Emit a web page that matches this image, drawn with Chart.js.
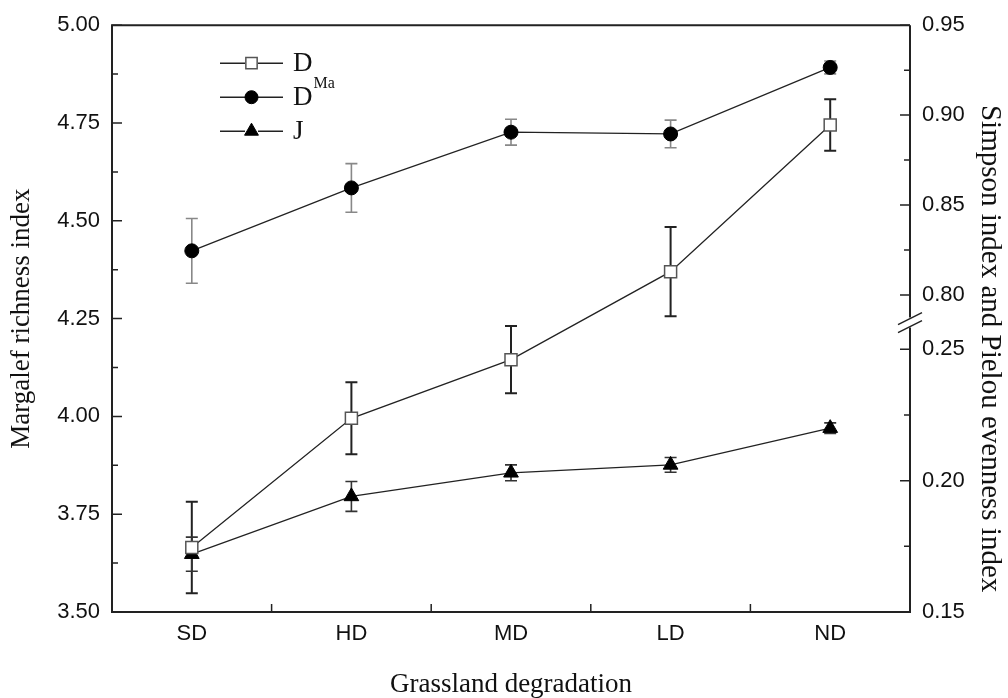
<!DOCTYPE html>
<html>
<head>
<meta charset="utf-8">
<script src="https://cdn.jsdelivr.net/npm/chart.js@4.4.0/dist/chart.umd.min.js"></script>
<style>
  html, body { margin: 0; padding: 0; background: #fff; }
  #wrap { width: 1008px; height: 698px; }
</style>
</head>
<body>
<div id="wrap"><canvas id="chart" width="1008" height="698"></canvas></div>
<script>
const categories = ['SD', 'HD', 'MD', 'LD', 'ND'];

// Margalef richness index (left axis)
const margalef = [3.665, 3.995, 4.145, 4.37, 4.745];
const margalefErr = [0.117, 0.092, 0.086, 0.114, 0.066];
// Simpson index (right axis, upper part)
const simpson = [0.8245, 0.8595, 0.8905, 0.8895, 0.9265];
const simpsonErr = [0.018, 0.0135, 0.0072, 0.0077, 0.0036];
// Pielou evenness index (right axis, lower part)
const pielou = [0.172, 0.194, 0.203, 0.206, 0.220];
const pielouErr = [0.0065, 0.0057, 0.003, 0.0028, 0.002];

const leftTicks = [3.50, 3.75, 4.00, 4.25, 4.50, 4.75, 5.00];
const leftMinor = [3.625, 3.875, 4.125, 4.375, 4.625, 4.875];
const simpsonTicks = [0.80, 0.85, 0.90, 0.95];
const simpsonMinor = [0.825, 0.875, 0.925];
const pielouTicks = [0.15, 0.20, 0.25];
const pielouMinor = [0.175, 0.225];

const legendLabels = [['D', 'Ma'], ['D', ''], ['J', '']];

const tickFont = { family: 'Liberation Sans, Arial, sans-serif', size: 22 };
const titleFont = { family: 'Liberation Serif, Times New Roman, serif', size: 27 };
const ink = '#111';
const frameColor = '#222';

const errorBars = {
    DMa: { values: margalefErr, color: '#222', width: 2 },
    D: { values: simpsonErr, color: '#888', width: 1.6 },
    J: { values: pielouErr, color: '#333', width: 1.6 }
};

const decor = {
    id: 'decor',
    beforeDatasetsDraw(chart) {
        const ctx = chart.ctx;
        chart.data.datasets.forEach((ds, i) => {
            const yScale = chart.scales[ds.yAxisID];
            const xScale = chart.scales.x;
            const eb = errorBars[ds.key];
            ctx.save();
            ctx.strokeStyle = eb.color;
            ctx.lineWidth = eb.width;
            ds.data.forEach((v, j) => {
                const x = xScale.getPixelForValue(j);
                const y1 = yScale.getPixelForValue(v + eb.values[j]);
                const y2 = yScale.getPixelForValue(v - eb.values[j]);
                ctx.beginPath();
                ctx.moveTo(x, y1); ctx.lineTo(x, y2);
                ctx.moveTo(x - 6, y1); ctx.lineTo(x + 6, y1);
                ctx.moveTo(x - 6, y2); ctx.lineTo(x + 6, y2);
                ctx.stroke();
            });
            ctx.restore();
        });
    },
    afterDraw(chart) {
        const ctx = chart.ctx;
        const { left, right, top, bottom } = chart.chartArea;
        const brk = chart.scales.yD.bottom;

        ctx.save();
        ctx.strokeStyle = frameColor;
        ctx.lineWidth = 2;
        ctx.beginPath();
        ctx.moveTo(right, top); ctx.lineTo(left, top);
        ctx.lineTo(left, bottom); ctx.lineTo(right, bottom);
        ctx.lineTo(right, brk + 5);
        ctx.moveTo(right, top); ctx.lineTo(right, brk - 5);
        ctx.stroke();

        // axis break marks
        ctx.lineWidth = 1.5;
        ctx.beginPath();
        [-4, 4].forEach(d => {
            ctx.moveTo(right - 12, brk + d + 6);
            ctx.lineTo(right + 12, brk + d - 6);
        });
        ctx.stroke();

        // inward tick marks
        ctx.lineWidth = 1.5;
        ctx.beginPath();
        const yl = chart.scales.y;
        leftTicks.forEach(v => { const p = yl.getPixelForValue(v); ctx.moveTo(left, p); ctx.lineTo(left + 10, p); });
        leftMinor.forEach(v => { const p = yl.getPixelForValue(v); ctx.moveTo(left, p); ctx.lineTo(left + 6, p); });
        const yd = chart.scales.yD, yj = chart.scales.yJ;
        simpsonTicks.forEach(v => { const p = yd.getPixelForValue(v); ctx.moveTo(right, p); ctx.lineTo(right - 10, p); });
        simpsonMinor.forEach(v => { const p = yd.getPixelForValue(v); ctx.moveTo(right, p); ctx.lineTo(right - 6, p); });
        pielouTicks.forEach(v => { const p = yj.getPixelForValue(v); ctx.moveTo(right, p); ctx.lineTo(right - 10, p); });
        pielouMinor.forEach(v => { const p = yj.getPixelForValue(v); ctx.moveTo(right, p); ctx.lineTo(right - 6, p); });
        const xs = chart.scales.x;
        for (let i = 0; i < categories.length - 1; i++) {
            const p = (xs.getPixelForValue(i) + xs.getPixelForValue(i + 1)) / 2;
            ctx.moveTo(p, bottom); ctx.lineTo(p, bottom - 8);
        }
        ctx.stroke();

        // right axis title
        ctx.fillStyle = ink;
        ctx.font = `29px ${titleFont.family}`;
        ctx.textAlign = 'center';
        ctx.textBaseline = 'middle';
        ctx.translate(chart.width - 18, (top + bottom) / 2 + 30);
        ctx.rotate(Math.PI / 2);
        ctx.fillText('Simpson index and Pielou evenness index', 0, 0);
        ctx.restore();

        // legend
        ctx.save();
        chart.data.datasets.forEach((ds, i) => {
            const y = top + 38 + i * 34;
            const x0 = left + 108;
            ctx.strokeStyle = ds.borderColor;
            ctx.lineWidth = 1.5;
            ctx.beginPath();
            ctx.moveTo(x0, y); ctx.lineTo(x0 + 25, y);
            ctx.moveTo(x0 + 38, y); ctx.lineTo(x0 + 63, y);
            ctx.stroke();
            ctx.fillStyle = ds.pointBackgroundColor;
            ctx.strokeStyle = ds.pointBorderColor;
            ctx.lineWidth = ds.pointBorderWidth;
            Chart.helpers.drawPoint(ctx, { pointStyle: ds.pointStyle, radius: ds.pointRadius - 0.5, rotation: 0, borderWidth: ds.pointBorderWidth }, x0 + 31.5, y);
            ctx.fillStyle = ink;
            ctx.textAlign = 'left';
            ctx.textBaseline = 'middle';
            ctx.font = `${titleFont.size}px ${titleFont.family}`;
            ctx.fillText(legendLabels[i][0], x0 + 73, y + 1);
            if (legendLabels[i][1]) {
                const w = ctx.measureText(legendLabels[i][0]).width;
                ctx.font = `16px ${titleFont.family}`;
                ctx.fillText(legendLabels[i][1], x0 + 74 + w, y + 21);
            }
        });
        ctx.restore();
    }
};

const ctx = document.getElementById('chart').getContext('2d');

new Chart(ctx, {
    type: 'line',
    data: {
        labels: categories,
        datasets: [
            {
                key: 'DMa', label: 'DMa', data: margalef, yAxisID: 'y',
                borderColor: '#222', borderWidth: 1.3, tension: 0,
                pointStyle: 'rect', pointRadius: 8.5, pointBackgroundColor: '#fff',
                pointBorderColor: '#555', pointBorderWidth: 1.5, clip: false
            },
            {
                key: 'D', label: 'D', data: simpson, yAxisID: 'yD',
                borderColor: '#222', borderWidth: 1.3, tension: 0,
                pointStyle: 'circle', pointRadius: 7, pointBackgroundColor: '#000',
                pointBorderColor: '#000', pointBorderWidth: 1, clip: false
            },
            {
                key: 'J', label: 'J', data: pielou, yAxisID: 'yJ',
                borderColor: '#222', borderWidth: 1.3, tension: 0,
                pointStyle: 'triangle', pointRadius: 8.5, pointBackgroundColor: '#000',
                pointBorderColor: '#000', pointBorderWidth: 1, clip: false
            }
        ]
    },
    options: {
        responsive: false,
        animation: false,
        devicePixelRatio: 1,
        layout: { padding: { top: 18, left: 0, right: 0, bottom: 0 } },
        plugins: { legend: { display: false }, tooltip: { enabled: false } },
        scales: {
            x: {
                type: 'category',
                offset: true,
                grid: { display: false, drawTicks: false },
                border: { display: false },
                ticks: { font: tickFont, color: ink, padding: 9 },
                title: { display: true, text: 'Grassland degradation', font: { ...titleFont, lineHeight: 1 }, color: ink, padding: 0 },
                afterFit: s => { s.height = 86; }
            },
            y: {
                position: 'left',
                min: 3.5, max: 5.0,
                grid: { display: false, drawTicks: false },
                border: { display: false },
                afterBuildTicks: s => { s.ticks = leftTicks.map(v => ({ value: v })); },
                ticks: { font: tickFont, color: ink, padding: 12, callback: v => Number(v).toFixed(2) },
                title: { display: true, text: 'Margalef richness index', font: titleFont, color: ink, padding: { top: 6 } },
                afterFit: s => { s.width = 112; }
            },
            yD: {
                position: 'right',
                stack: 'right', stackWeight: 300,
                min: 0.7846, max: 0.95,
                grid: { display: false, drawTicks: false },
                border: { display: false },
                afterBuildTicks: s => { s.ticks = simpsonTicks.map(v => ({ value: v })); },
                ticks: { font: tickFont, color: ink, padding: 12, callback: v => Number(v).toFixed(2) },
                afterFit: s => { s.width = 98; }
            },
            yJ: {
                position: 'right',
                stack: 'right', stackWeight: 292,
                min: 0.15, max: 0.2602,
                grid: { display: false, drawTicks: false },
                border: { display: false },
                afterBuildTicks: s => { s.ticks = pielouTicks.map(v => ({ value: v })); },
                ticks: { font: tickFont, color: ink, padding: 12, callback: v => Number(v).toFixed(2) },
                afterFit: s => { s.width = 98; }
            }
        }
    },
    plugins: [decor]
});
</script>
</body>
</html>
